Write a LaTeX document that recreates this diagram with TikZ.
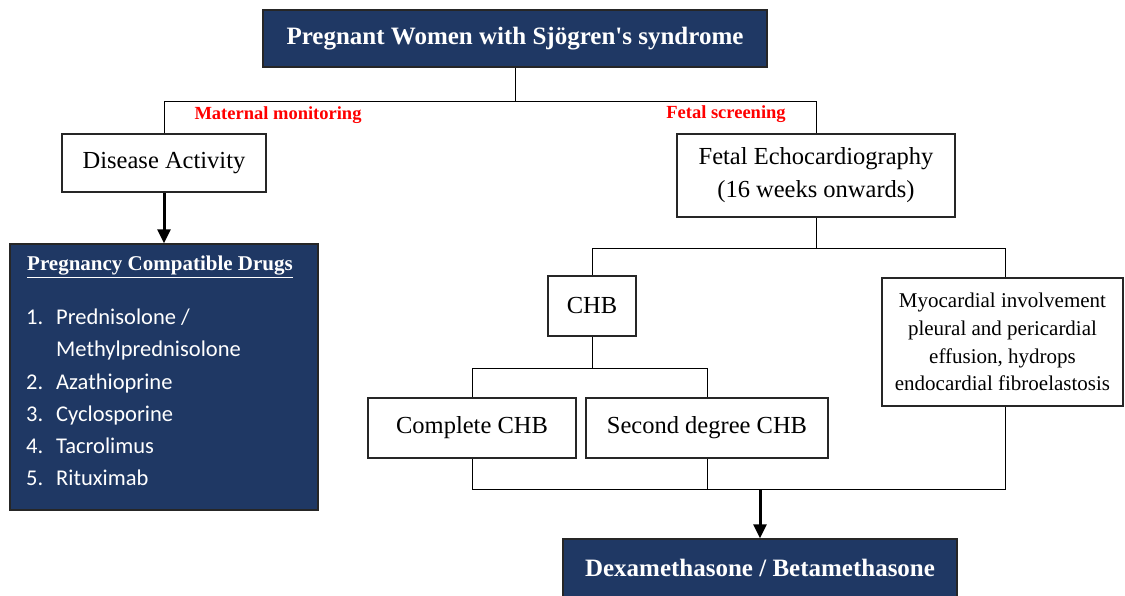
\documentclass[tikz,border=0pt]{standalone}
\usepackage{fontspec}
\setmainfont{Liberation Serif}
\newfontfamily\calibri{Carlito}
\usepackage{tikz}
\usetikzlibrary{positioning}
\usetikzlibrary{shapes,calc,arrows.meta}
\definecolor{navy}{RGB}{31,56,100}
\tikzset{
	x=1pt, y=-1pt,
	line width=1.3pt,
	box/.style ={rectangle, draw=black!85, line width=1.5pt, fill=white, inner sep=0pt,
		align=center, font=\fontsize{24.5}{33}\selectfont},
	darkbox/.style = {box, fill=navy, text=white, font=\bfseries\fontsize{25}{30}\selectfont},
	tag/.style = {text=red, inner sep=0pt, font=\bfseries\fontsize{18.5}{22}\selectfont},
	bigarrow/.style = {line width=3pt, -{Triangle[length=14pt,width=13pt]}},
}
\newcommand{\drugno}[1]{\makebox[30pt][l]{#1}}

\begin{document}
\begin{tikzpicture}
	\useasboundingbox (0,0) rectangle (1125,595);
	\node (women) [darkbox, minimum width=504pt, minimum height=57pt] at (515,38.5) {Pregnant Women with Sjögren\textquotesingle s syndrome};
	\node (activity) [box, minimum width=204pt, minimum height=58pt] at (164,163) {Disease Activity};
	\node (drugs) [darkbox, minimum width=308pt, minimum height=266pt] at (164,377) {};
	\node (drugtitle) [text=white, inner sep=0pt, font=\bfseries\fontsize{21}{25}\selectfont] at (160,267) {\underline{Pregnancy Compatible Drugs}};
	\node (druglist) [anchor=west, text=white, align=left, inner sep=0pt, font=\calibri\fontsize{22.5}{32.2}\selectfont] at (26,397.5)
		{\drugno{1.}Prednisolone /\\ \drugno{}Methylprednisolone\\ \drugno{2.}Azathioprine\\ \drugno{3.}Cyclosporine\\ \drugno{4.}Tacrolimus\\ \drugno{5.}Rituximab};
	\node (maternal) [tag] at (278,115) {Maternal monitoring};
	\node (fetal) [tag] at (726,114) {Fetal screening};
	\node (echo) [box, minimum width=278pt, minimum height=83pt] at (816,175.5) {Fetal Echocardiography\\(16 weeks onwards)};
	\node (chb) [box, minimum width=88pt, minimum height=60pt] at (592,306) {CHB};
	\node (myo) [box, minimum width=241pt, minimum height=128pt, font=\fontsize{21}{27.7}\selectfont] at (1002.5,342)
		{Myocardial involvement\\pleural and pericardial\\effusion, hydrops\\endocardial fibroelastosis};
	\node (complete) [box, minimum width=208pt, minimum height=60pt] at (472,428) {Complete CHB};
	\node (second) [box, minimum width=242pt, minimum height=60pt] at (707,428) {Second degree CHB};
	\node (dexa) [darkbox, minimum width=394pt, minimum height=58pt] at (760,568) {Dexamethasone / Betamethasone};
	\coordinate (merge) at (760,489);
	\draw (women.south) -- ++(0,33) -| (activity.north);
	\draw (women.south) -- ++(0,33) -| (echo.north);
	\draw [bigarrow] (activity.south) -- (drugs.north);
	\draw (echo.south) -- ++(0,30) -| ([xshift=3pt]myo.north);
	\draw (echo.south) -- ++(0,30) -| (chb.north);
	\draw (chb.south) -- ++(0,31) -| (complete.north);
	\draw (chb.south) -- ++(0,31) -| (second.north);
	\draw (complete.south) |- (merge);
	\draw (second.south) |- (merge);
	\draw ([xshift=3pt]myo.south) |- (merge);
	\draw [bigarrow] (merge) -- (dexa.north);
\end{tikzpicture}
\end{document}
